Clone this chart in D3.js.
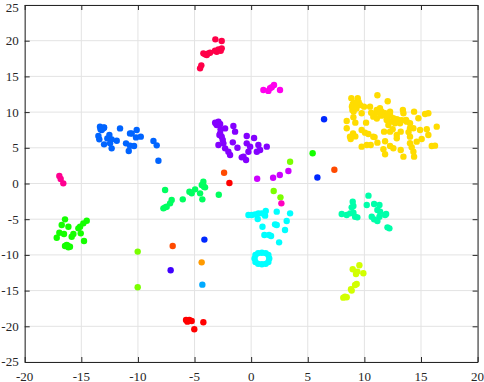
<!DOCTYPE html>
<html><head><meta charset="utf-8">
<script src="https://cdn.jsdelivr.net/npm/d3@7"></script>
<style>body{margin:0;background:#fff}svg{display:block}</style>
</head><body>
<script>
// ---- data ----
const xTicks = [-20,-15,-10,-5,0,5,10,15,20];
const yTicks = [-25,-20,-15,-10,-5,0,5,10,15,20,25];

const redPts = [[-5.75,-19.11],[-5.46,-19.11],[-5.25,-19.26],[-5.63,-19.35],[-5.5,-19.2],[-4.22,-19.44],[-5.02,-20.42],[-1.92,0.07]];
const orangeRedPts = [[-2.39,1.51],[-6.93,-8.75],[7.35,1.93]];
const orangePts = [[-4.37,-11.04]];
const yellowPts = [[8.85,11.93],[9.41,11.93],[11.15,12.35],[12.06,11.51],[8.97,11.09],[9.32,11.09],[9.62,11.0],[9.97,10.76],[10.5,10.76],[8.94,10.3],[9.76,9.83],[9.03,9.27],[8.44,8.76],[8.44,7.73],[9.2,8.52],[10.15,8.52],[10.79,9.36],[11.09,10.3],[11.38,10.53],[11.53,10.06],[11.83,9.83],[12.27,9.6],[11.97,8.9],[12.56,9.13],[13.0,8.9],[13.45,9.83],[14.39,10.06],[14.77,9.13],[15.36,9.74],[15.65,9.83],[13.74,8.66],[14.03,8.43],[14.33,7.73],[14.92,7.5],[15.51,7.59],[16.39,7.96],[12.12,8.2],[12.27,8.66],[12.71,8.43],[13.15,8.43],[9.76,7.5],[10.06,7.12],[10.35,6.94],[10.79,6.56],[8.73,6.56],[8.79,6.24],[9.76,5.16],[10.21,5.4],[10.56,5.4],[11.15,5.72],[11.83,5.91],[12.27,7.26],[11.74,7.26],[12.86,6.8],[12.86,6.33],[13.21,7.26],[14.03,6.56],[14.62,5.86],[15.06,6.24],[15.65,6.8],[12.27,5.26],[12.56,4.93],[11.68,4.79],[11.83,4.09],[13.21,4.69],[13.45,3.76],[14.03,5.63],[14.18,5.07],[14.33,4.46],[14.39,3.76],[14.03,7.73],[15.95,5.26],[16.24,5.3],[13.68,8.9],[12.27,10.06],[11.97,9.36],[11.38,9.83],[12.86,9.0],[13.3,8.87],[9.1,11.3],[9.5,11.4],[8.9,10.8],[9.3,10.5],[10.9,9.6],[11.1,9.1],[10.6,9.9],[11.5,9.5],[12.0,9.0],[9.0,7.0],[9.2,6.6],[10.9,6.5],[13.4,10.3],[9.05,10.1],[13.9,7.2],[12.5,7.6]];
const yellowGreenPts = [[9.56,-11.46],[8.97,-12.02],[9.38,-12.34],[9.26,-12.67],[9.91,-12.58],[9.32,-14.07],[9.18,-14.21],[8.82,-14.82],[8.88,-15.0],[8.29,-15.85],[8.44,-15.94],[8.14,-15.99]];
const limePts = [[-10.02,-9.54],[-10.02,-14.54],[3.44,3.05],[1.99,-1.05],[2.59,-1.94]];
const greenPts = [[-16.44,-5.02],[-16.73,-5.82],[-16.14,-6.05],[-14.52,-5.21],[-14.82,-5.58],[-15.11,-6.05],[-15.26,-6.28],[-16.94,-6.89],[-16.53,-7.08],[-15.7,-7.08],[-15.05,-6.98],[-15.85,-7.45],[-17.17,-7.59],[-14.76,-8.06],[-16.29,-8.62],[-16.0,-8.85],[-16.14,-8.94],[-16.44,-8.76],[-16.2,-8.7],[5.43,4.24]];
const springGreenPts = [[-7.6,-0.92],[-4.22,0.25],[-4.36,-0.21],[-4.07,-0.54],[-4.95,-0.82],[-5.45,-1.15],[-5.25,-1.38],[-4.51,-1.38],[-4.31,-2.22],[-6.04,-2.22],[-7.02,-2.31],[-7.16,-2.78],[-7.6,-3.34],[-7.75,-3.48],[-7.46,-3.25],[-4.16,-0.45],[-2.86,-1.57]];
const aquaGreenPts = [[10.36,-1.7],[8.97,-2.55],[9.03,-3.15],[8.88,-3.34],[8.0,-4.27],[8.44,-4.41],[8.74,-4.18],[9.03,-4.09],[9.18,-4.65],[9.38,-4.74],[10.21,-3.01],[10.86,-2.87],[11.33,-3.01],[11.15,-3.71],[11.39,-3.95],[10.65,-4.65],[10.86,-5.02],[11.15,-5.25],[11.33,-4.65],[11.83,-4.41],[11.92,-4.27],[12.04,-6.14],[12.21,-6.28]];
const cyanPts = [[-0.24,-4.41],[0.05,-4.41],[0.35,-4.32],[0.64,-4.18],[0.94,-4.18],[1.29,-3.85],[0.58,-4.97],[1.23,-4.5],[2.26,-3.94],[3.44,-4.18],[3.14,-5.25],[2.11,-5.72],[2.26,-5.81],[1.0,-6.05],[2.99,-6.51],[1.17,-7.21],[1.58,-7.21],[1.76,-7.35],[2.47,-8.24],[0.3,-10.5],[0.38,-10.0],[0.62,-9.75],[0.95,-9.7],[1.28,-9.75],[1.52,-10.0],[1.6,-10.5],[1.52,-11.0],[1.28,-11.25],[0.95,-11.3],[0.62,-11.25],[0.38,-11.0]];
const skyBluePts = [[-4.31,-14.17]];
const azurePts = [[-13.35,7.96],[-12.99,7.86],[-13.2,7.49],[-13.0,7.8],[-13.3,7.6],[-13.1,7.7],[-13.49,6.65],[-13.41,6.18],[-12.52,6.79],[-12.7,6.32],[-12.32,6.18],[-11.87,5.99],[-12.46,5.62],[-12.99,5.48],[-12.32,4.92],[-11.58,7.72],[-10.7,7.02],[-10.55,7.0],[-10.11,7.49],[-10.17,6.46],[-9.75,6.56],[-11.05,5.62],[-10.7,5.29],[-10.34,5.25],[-10.81,4.55],[-8.63,5.95],[-8.34,5.34],[-8.19,3.19]];
const bluePts = [[-4.13,-7.86],[5.85,0.84],[6.44,8.99]];
const indigoPts = [[-7.11,-12.16]];
const purplePts = [[-3.18,8.52],[-2.89,8.66],[-2.74,8.33],[-3.04,8.19],[-3.1,8.4],[-2.3,7.72],[-1.57,8.05],[-1.42,7.26],[-2.74,7.02],[-2.6,6.56],[-2.51,6.09],[-2.89,5.39],[-2.45,5.62],[-2.3,4.92],[-2.01,4.45],[-1.86,3.99],[-1.62,5.76],[-1.21,5.01],[-0.39,6.65],[0.26,6.37],[-0.39,5.62],[-0.09,5.16],[-0.24,4.45],[-0.68,3.75],[-0.83,3.66],[-0.45,3.29],[0.64,5.39],[0.5,4.45],[0.79,4.69],[1.38,5.16],[-2.7,7.6],[-2.8,6.8]];
const violetPts = [[0.53,0.67],[1.94,0.81],[2.53,1.19],[3.29,1.75]];
const magentaPts = [[1.08,13.09],[1.52,12.97],[1.67,13.33],[2.02,13.8],[2.55,13.09],[1.82,13.47]];
const pinkMagentaPts = [[2.67,-2.78]];
const pinkPts = [[-16.94,1.05],[-16.82,0.63],[-16.59,0.02]];
const crimsonPts = [[-3.16,20.19],[-2.6,19.96],[-4.22,18.23],[-4.07,18.09],[-3.92,18.0],[-3.78,18.23],[-3.63,18.32],[-3.19,18.6],[-3.04,18.46],[-2.89,18.79],[-2.69,18.6],[-2.6,18.93],[-4.51,16.13],[-4.4,16.55]];

const groupNames  = ["red","orangeRed","orange","yellow","yellowGreen","lime","green","springGreen","aquaGreen","cyan","skyBlue","azure","blue","indigo","purple","violet","magenta","pinkMagenta","pink","crimson"];
const groupColors = ["#ff0000","#ff4a00","#ff9a00","#ffdc00","#d2ff00","#7aff00","#14ff00","#00ff60","#00ffaa","#00ffff","#00aaff","#0064ff","#0028ff","#4000ff","#8400ff","#cc00ff","#ff00ee","#ff00c0","#ff0090","#ff0048"];
const groupPoints = [redPts,orangeRedPts,orangePts,yellowPts,yellowGreenPts,limePts,greenPts,springGreenPts,aquaGreenPts,cyanPts,skyBluePts,azurePts,bluePts,indigoPts,purplePts,violetPts,magentaPts,pinkMagentaPts,pinkPts,crimsonPts];

// ---- drawing ----
const W = 484, H = 382;
const L = 24.7, R = 477.6, T = 5, B = 362;
const FONT = "Liberation Serif";
const svg = d3.select("body").append("svg").attr("width", W).attr("height", H);
const x = d3.scaleLinear().domain([-20,20]).range([L,R]);
const y = d3.scaleLinear().domain([-25,25]).range([B,T]);

// grid
const grid = svg.append("g");
grid.selectAll("line.gx").data(xTicks).join("line")
  .attr("x1", d => x(d)).attr("x2", d => x(d)).attr("y1", T).attr("y2", B)
  .attr("stroke", "#e3e3e3").attr("stroke-width", 1);
grid.selectAll("line.gy").data(yTicks).join("line")
  .attr("y1", d => y(d)).attr("y2", d => y(d)).attr("x1", L).attr("x2", R)
  .attr("stroke", "#e3e3e3").attr("stroke-width", 1);

// points
const table = [];
groupPoints.forEach((pts, gi) => pts.forEach(p => table.push({x: p[0], y: p[1], c: groupColors[gi], g: groupNames[gi]})));
svg.append("g").selectAll("circle").data(table).join("circle")
  .attr("cx", d => x(d.x)).attr("cy", d => y(d.y)).attr("r", 3.2)
  .attr("fill", d => d.c);

// axes (ticks and box)
const fmt = d => (d < 0 ? "-" : "") + Math.abs(d);
function styleAxis(g){
  g.selectAll("path").attr("stroke","#262626").attr("stroke-width",1);
  g.selectAll(".tick line").attr("stroke","#262626");
  g.selectAll(".tick text").remove();
}
svg.append("g").attr("transform",`translate(0,${B})`)
  .call(d3.axisBottom(x).tickValues(xTicks).tickSizeInner(-5).tickSizeOuter(0)).call(styleAxis);
svg.append("g").attr("transform",`translate(0,${T})`)
  .call(d3.axisTop(x).tickValues(xTicks).tickSizeInner(-5).tickSizeOuter(0)).call(styleAxis);
svg.append("g").attr("transform",`translate(${L},0)`)
  .call(d3.axisLeft(y).tickValues(yTicks).tickSizeInner(-5).tickSizeOuter(0)).call(styleAxis);
svg.append("g").attr("transform",`translate(${R},0)`)
  .call(d3.axisRight(y).tickValues(yTicks).tickSizeInner(-5).tickSizeOuter(0)).call(styleAxis);

// tick labels
svg.append("g").selectAll("text").data(xTicks).join("text")
  .attr("x", d => x(d)).attr("y", 380.5)
  .attr("text-anchor", "middle")
  .style("font-family", FONT).style("font-size", "13px").style("fill", "#262626")
  .text(fmt);
svg.append("g").selectAll("text").data(yTicks).join("text")
  .attr("x", L - 6).attr("y", d => Math.max(y(d) + 4.4, 11.8))
  .attr("text-anchor", "end")
  .style("font-family", FONT).style("font-size", "13px").style("fill", "#262626")
  .text(fmt);
</script>
</body></html>
